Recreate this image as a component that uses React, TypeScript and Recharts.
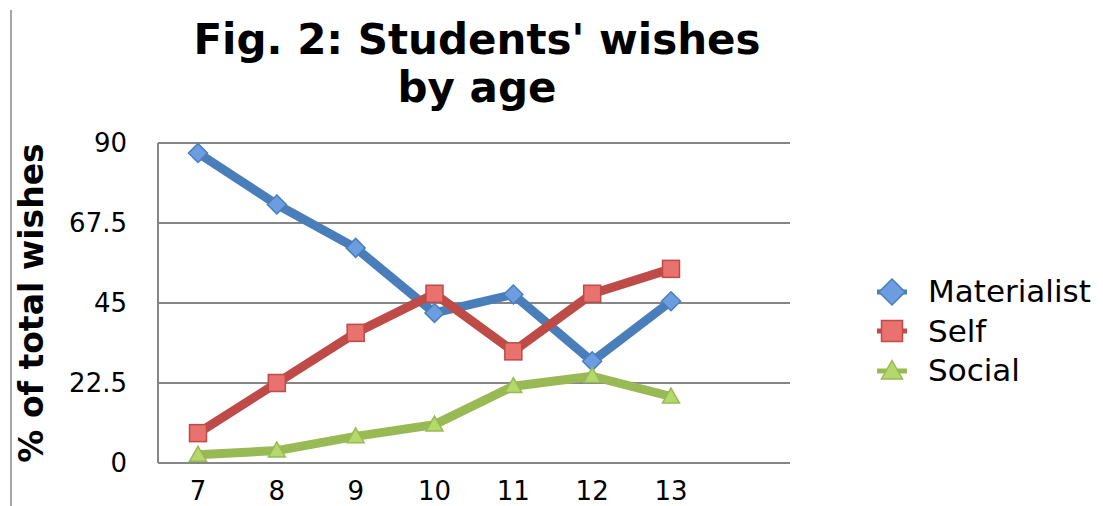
import { LineChart, Line, XAxis, YAxis, CartesianGrid } from 'recharts';

const ages = ['7', '8', '9', '10', '11', '12', '13'];
const materialist = [87.2, 72.7, 60.5, 42.2, 47.4, 28.6, 45.5];
const self = [8.4, 22.5, 36.6, 47.6, 31.4, 47.6, 54.6];
const social = [2.3, 3.5, 7.5, 10.8, 21.6, 24.4, 18.7];
const yTicks = [0, 22.5, 45, 67.5, 90];

const seriesNames = ['Materialist', 'Self', 'Social'];

const data = ages.map((age, i) => ({
  age,
  Materialist: materialist[i],
  Self: self[i],
  Social: social[i],
}));

const FONT = '"DejaVu Sans", Verdana, sans-serif';

const styles: Record<string, { line: string; fill: string; shape: string }> = {
  Materialist: { line: '#4A7EBB', fill: '#6C9DE0', shape: 'diamond' },
  Self: { line: '#BE4B48', fill: '#E9716E', shape: 'square' },
  Social: { line: '#98B954', fill: '#B5D86C', shape: 'triangle' },
};

const Marker = ({ cx, cy, name, size }: { cx: number; cy: number; name: string; size: number }) => {
  const s = styles[name];
  const r = size / 2;
  if (s.shape === 'diamond') {
    return (
      <path
        d={`M${cx},${cy - r - 1}L${cx + r + 1},${cy}L${cx},${cy + r + 1}L${cx - r - 1},${cy}Z`}
        fill={s.fill}
        stroke={s.line}
        strokeWidth={1.5}
      />
    );
  }
  if (s.shape === 'square') {
    return <rect x={cx - r} y={cy - r} width={size} height={size} fill={s.fill} stroke={s.line} strokeWidth={1.5} />;
  }
  return (
    <path
      d={`M${cx},${cy - r}L${cx + r},${cy + r * 0.75}L${cx - r},${cy + r * 0.75}Z`}
      fill={s.fill}
      stroke={s.line}
      strokeWidth={1.5}
    />
  );
};

const makeDot = (name: string) => (props: any) => {
  const { cx, cy, key } = props;
  if (cx == null || cy == null) return <g key={key} />;
  return (
    <g key={key}>
      <Marker cx={cx} cy={cy} name={name} size={17} />
    </g>
  );
};

const App = () => {
  return (
    <div style={{ position: 'absolute', left: 0, top: 0, width: 1103, height: 506, background: '#fff', fontFamily: FONT }}>
      <div style={{ position: 'absolute', left: 10, top: 10, width: 2, height: 496, background: '#A6A6A6' }} />
      <div
        style={{
          position: 'absolute',
          left: 177,
          width: 600,
          top: 16,
          textAlign: 'center',
          fontWeight: 'bold',
          fontSize: 42,
          lineHeight: '48px',
          color: '#000',
          whiteSpace: 'nowrap',
        }}
      >
        Fig. 2: Students' wishes
        <br />
        by age
      </div>
      <div
        style={{
          position: 'absolute',
          left: 31,
          top: 303,
          transform: 'translate(-50%, -50%) rotate(-90deg)',
          whiteSpace: 'nowrap',
          fontWeight: 'bold',
          fontSize: 33,
          color: '#000',
        }}
      >
        % of total wishes
      </div>

      <LineChart width={1103} height={506} data={data} margin={{ top: 143, right: 313, bottom: 13, left: 0 }}>
        <CartesianGrid vertical={false} stroke="#868686" strokeWidth={2} />
        <XAxis
          dataKey="age"
          height={30}
          padding={{ left: 40, right: 119 }}
          axisLine={{ stroke: '#868686', strokeWidth: 2 }}
          tickLine={false}
          tickMargin={13}
          tick={{ fill: '#000', fontSize: 26, fontFamily: FONT }}
          interval={0}
        />
        <YAxis
          width={158}
          domain={[0, 90]}
          ticks={yTicks}
          axisLine={{ stroke: '#868686', strokeWidth: 2 }}
          tickLine={false}
          tickMargin={25}
          tick={{ fill: '#000', fontSize: 26, fontFamily: FONT }}
          interval={0}
        />
        {seriesNames.map((name) => (
          <Line
            key={name}
            type="linear"
            dataKey={name}
            stroke={styles[name].line}
            strokeWidth={9}
            strokeLinejoin="round"
            dot={makeDot(name)}
            activeDot={false}
            isAnimationActive={false}
          />
        ))}
      </LineChart>

      <div style={{ position: 'absolute', left: 875, top: 272 }}>
        {seriesNames.map((name) => (
          <div key={name} style={{ display: 'flex', alignItems: 'center', height: 39.5 }}>
            <svg width={34} height={34}>
              <line x1={2} y1={17} x2={32} y2={17} stroke={styles[name].line} strokeWidth={5} />
              <Marker cx={17} cy={17} name={name} size={name === 'Materialist' ? 24 : 21} />
            </svg>
            <span style={{ marginLeft: 19, fontSize: 31, color: '#000', lineHeight: '39px' }}>{name}</span>
          </div>
        ))}
      </div>
    </div>
  );
};

export default App;
